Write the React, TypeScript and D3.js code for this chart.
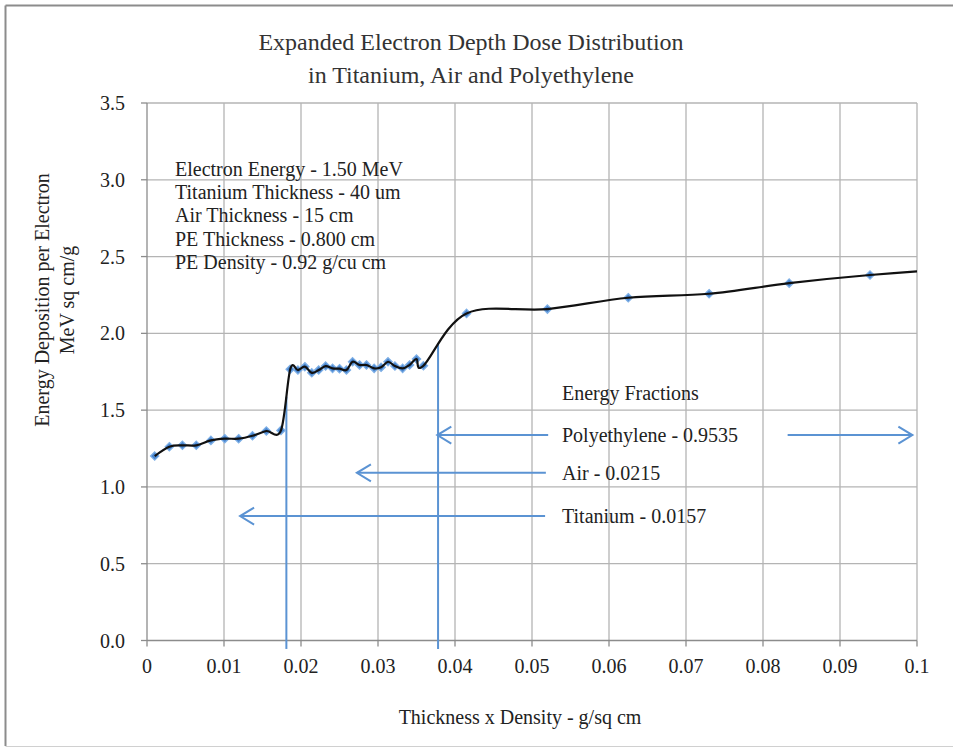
import React from 'react';
import * as d3 from 'd3';

// ---- Data ----
const thicknessDensity = [
  0.0010, 0.0029, 0.0046, 0.0064, 0.0083, 0.0101, 0.0119, 0.0137, 0.0155, 0.0174,
  0.0186, 0.0196, 0.0205, 0.0214, 0.0223, 0.0232, 0.0241, 0.0250, 0.0259, 0.0267,
  0.0276, 0.0285, 0.0295, 0.0304, 0.0313, 0.0322, 0.0332, 0.0341, 0.0350, 0.0359,
  0.0415, 0.0520, 0.0625, 0.0730, 0.0834, 0.0939, 0.1044,
];
const energyDeposition = [
  1.201, 1.262, 1.271, 1.271, 1.303, 1.314, 1.314, 1.333, 1.364, 1.368,
  1.766, 1.761, 1.783, 1.743, 1.761, 1.787, 1.772, 1.770, 1.761, 1.815,
  1.794, 1.794, 1.772, 1.779, 1.815, 1.787, 1.772, 1.794, 1.833, 1.789,
  2.130, 2.158, 2.232, 2.258, 2.327, 2.380, 2.416,
];

const xTicks = [0, 0.01, 0.02, 0.03, 0.04, 0.05, 0.06, 0.07, 0.08, 0.09, 0.1];
const xTickLabels = ['0', '0.01', '0.02', '0.03', '0.04', '0.05', '0.06', '0.07', '0.08', '0.09', '0.1'];
const yTicks = [0, 0.5, 1, 1.5, 2, 2.5, 3, 3.5];
const yTickLabels = ['0.0', '0.5', '1.0', '1.5', '2.0', '2.5', '3.0', '3.5'];

const titleLines = ['Expanded Electron Depth Dose Distribution', 'in Titanium, Air and Polyethylene'];
const yLabelLines = ['Energy Deposition per Electron', 'MeV sq cm/g'];
const xLabel = 'Thickness x Density - g/sq cm';
const infoLines = [
  'Electron Energy - 1.50 MeV',
  'Titanium Thickness - 40 um',
  'Air Thickness - 15 cm',
  'PE Thickness - 0.800 cm',
  'PE Density - 0.92 g/cu cm',
];

// material boundaries (x) and where the boundary line meets the curve (y)
const boundaryX = [0.0181, 0.0378];
const boundaryTopY = [1.587, 1.935];

const fractionsTitle = 'Energy Fractions';
const fractionLabels = ['Polyethylene - 0.9535', 'Air - 0.0215', 'Titanium - 0.0157'];
const fractionY = [1.338, 1.092, 0.8105];
const arrowTipX = [0.0377, 0.02726, 0.01209];
const arrowTailX = [0.0521, 0.0518, 0.0517];
const rightArrowFromX = 0.0832;
const rightArrowToX = 0.0994;

// ---- Layout ----
const W = 953;
const H = 750;
const plot = { left: 147, right: 917, top: 103, bottom: 640.5 };
const FONT = '"Liberation Serif", "Times New Roman", serif';
const BLUE = '#5b93d3';
const MARK = '#4a86cf';
const GRID = '#b4b4b4';
const AXIS = '#8c8c8c';

export default function App() {
  const x = d3.scaleLinear().domain([0, 0.1]).range([plot.left, plot.right]);
  const y = d3.scaleLinear().domain([0, 3.5]).range([plot.bottom, plot.top]);

  const pts: [number, number][] = thicknessDensity.map((d, i) => [d, energyDeposition[i]]);
  const line = d3
    .line<[number, number]>()
    .x((d) => x(d[0]))
    .y((d) => y(d[1]))
    .curve(d3.curveCatmullRom.alpha(0));
  const pathD = line(pts) || '';

  const r = 4.2;
  const diamond = `M0,${-r} L${r},0 L0,${r} L${-r},0 Z`;

  const arrowHead = (tx: number, ty: number, dir: number) => {
    const L = 14;
    const h = 8.5;
    return `M${tx - dir * L},${ty - h} L${tx},${ty} L${tx - dir * L},${ty + h}`;
  };

  return (
    <div style={{ position: 'fixed', left: 0, top: 0 }}>
      <svg width={W} height={H} style={{ display: 'block', background: '#fff' }}>
        <rect x={0} y={0} width={W} height={H} fill="#fff" />
        {/* outer chart frame */}
        <line x1={5.5} y1={5.5} x2={5.5} y2={746} stroke={AXIS} strokeWidth={2} />
        <line x1={5.5} y1={5.5} x2={W} y2={5.5} stroke={AXIS} strokeWidth={2} />
        <line x1={5.5} y1={746.5} x2={W} y2={746.5} stroke="#d0d0d0" strokeWidth={1} />

        <defs>
          <clipPath id="plotclip">
            <rect x={plot.left} y={plot.top - 10} width={plot.right - plot.left} height={plot.bottom - plot.top + 20} />
          </clipPath>
        </defs>

        {/* gridlines */}
        {xTicks.slice(1).map((t) => (
          <line key={'gx' + t} x1={x(t)} x2={x(t)} y1={plot.top} y2={plot.bottom} stroke={GRID} strokeWidth={1.3} />
        ))}
        {yTicks.slice(1).map((t) => (
          <line key={'gy' + t} x1={plot.left} x2={plot.right} y1={y(t)} y2={y(t)} stroke={GRID} strokeWidth={1.3} />
        ))}

        {/* axes */}
        <line x1={plot.left} x2={plot.left} y1={plot.top} y2={plot.bottom} stroke={AXIS} strokeWidth={1.3} />
        <line x1={plot.left} x2={plot.right} y1={plot.bottom} y2={plot.bottom} stroke={AXIS} strokeWidth={1.3} />
        {xTicks.map((t) => (
          <line key={'tx' + t} x1={x(t)} x2={x(t)} y1={plot.bottom} y2={plot.bottom + 6} stroke={AXIS} strokeWidth={1.3} />
        ))}
        {yTicks.map((t) => (
          <line key={'ty' + t} x1={plot.left - 6} x2={plot.left} y1={y(t)} y2={y(t)} stroke={AXIS} strokeWidth={1.3} />
        ))}

        {/* tick labels */}
        {xTicks.map((t, i) => (
          <text key={'lx' + t} x={x(t)} y={666} textAnchor="middle" dominantBaseline="central" fontFamily={FONT} fontSize={20} fill="#222">
            {xTickLabels[i]}
          </text>
        ))}
        {yTicks.map((t, i) => (
          <text key={'ly' + t} x={plot.left - 22} y={y(t)} textAnchor="end" dominantBaseline="central" fontFamily={FONT} fontSize={20} fill="#222">
            {yTickLabels[i]}
          </text>
        ))}

        {/* boundary lines */}
        {boundaryX.map((b, i) => (
          <line key={'b' + i} x1={x(b)} x2={x(b)} y1={y(boundaryTopY[i])} y2={y(-0.055)} stroke={BLUE} strokeWidth={2} />
        ))}

        {/* data series */}
        <g clipPath="url(#plotclip)">
          {pts.map((p, i) => (
            <path key={'m' + i} d={diamond} transform={`translate(${x(p[0])},${y(p[1])})`} fill={MARK} stroke="#7fb0e6" strokeWidth={1.2} />
          ))}
          <path d={pathD} fill="none" stroke="#111" strokeWidth={2.2} />
        </g>

        {/* energy fraction arrows */}
        {fractionLabels.map((lab, i) => (
          <g key={'f' + i}>
            <line x1={x(arrowTailX[i])} x2={x(arrowTipX[i])} y1={y(fractionY[i])} y2={y(fractionY[i])} stroke={BLUE} strokeWidth={2} />
            <path d={arrowHead(x(arrowTipX[i]), y(fractionY[i]), -1)} fill="none" stroke={BLUE} strokeWidth={2} />
            <text x={562} y={y(fractionY[i])} dominantBaseline="central" fontFamily={FONT} fontSize={20} fill="#222">
              {lab}
            </text>
          </g>
        ))}
        <line x1={x(rightArrowFromX)} x2={x(rightArrowToX)} y1={y(fractionY[0])} y2={y(fractionY[0])} stroke={BLUE} strokeWidth={2} />
        <path d={arrowHead(x(rightArrowToX), y(fractionY[0]), 1)} fill="none" stroke={BLUE} strokeWidth={2} />
        <text x={562} y={393} dominantBaseline="central" fontFamily={FONT} fontSize={20} fill="#222">
          {fractionsTitle}
        </text>

        {/* info block */}
        {infoLines.map((s, i) => (
          <text key={'i' + i} x={175} y={169 + i * 23.2} dominantBaseline="central" fontFamily={FONT} fontSize={20} fill="#222">
            {s}
          </text>
        ))}

        {/* title */}
        {titleLines.map((s, i) => (
          <text key={'t' + i} x={471} y={42 + i * 33} textAnchor="middle" dominantBaseline="central" fontFamily={FONT} fontSize={24} fill="#333">
            {s}
          </text>
        ))}

        {/* y label */}
        {yLabelLines.map((s, i) => (
          <text key={'yl' + i} transform={`translate(${42 + i * 25},300) rotate(-90)`} textAnchor="middle" dominantBaseline="central" fontFamily={FONT} fontSize={20} fill="#222">
            {s}
          </text>
        ))}

        {/* x label */}
        <text x={520} y={717} textAnchor="middle" dominantBaseline="central" fontFamily={FONT} fontSize={20} fill="#222">
          {xLabel}
        </text>
      </svg>
    </div>
  );
}
